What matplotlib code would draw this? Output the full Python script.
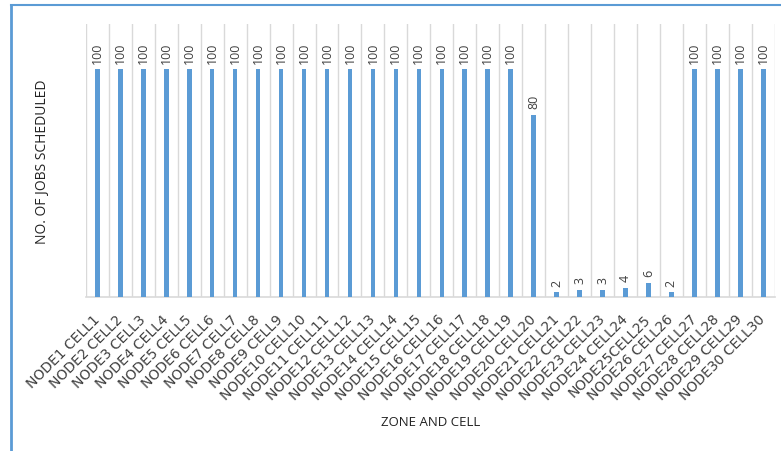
import matplotlib.pyplot as plt
from matplotlib.lines import Line2D
from matplotlib.transforms import ScaledTranslation

labels = [f"NODE{i} CELL{i}" for i in range(1, 31)]
labels[24] = "NODE25CELL25"
jobs = [100] * 19 + [80, 2, 3, 3, 4, 6, 2] + [100] * 4

bar_color = "#5B9BD5"
grid_color = "#D9D9D9"
text_color = "#404040"

plt.rcParams["font.family"] = ["Open Sans", "DejaVu Sans"]

fig = plt.figure(figsize=(7.81, 4.52), dpi=100)
ax = fig.add_axes([0.110, 0.3407, 0.882, 0.604])

x = list(range(len(labels)))
ax.bar(x, jobs, width=0.2, color=bar_color, zorder=3)

for xi, v in zip(x, jobs):
    ax.annotate(str(v), (xi, v), xytext=(0, 5), textcoords="offset points",
                rotation=90, ha="center", va="bottom", fontsize=9, color=text_color)

# vertical separators between categories
for b in range(len(labels) + 1):
    ax.axvline(b - 0.5, color=grid_color, lw=1, zorder=1)

ax.set_xlim(-0.5, len(labels) - 0.5)
ax.set_ylim(0, 120)
ax.set_yticks([])
ax.set_xticks([])

# category names, slanted under each bar
shift = ScaledTranslation(0, -14 / 72, fig.dpi_scale_trans)
for xi, name in zip(x, labels):
    ax.text(xi, 0, name, transform=ax.get_xaxis_transform() + shift,
            rotation=45, ha="right", va="center", rotation_mode="anchor",
            fontsize=10, color=text_color, family="DejaVu Sans")

for side in ["top", "right", "left"]:
    ax.spines[side].set_visible(False)
ax.spines["bottom"].set_color(grid_color)
ax.spines["bottom"].set_linewidth(1.2)

ax.set_ylabel("NO. OF JOBS SCHEDULED", fontsize=10, color="#222222", labelpad=26)
fig.text(0.551, 0.066, "ZONE AND CELL", ha="center", va="center",
         fontsize=9.5, color="#222222")

# outer frame lines
fig.add_artist(Line2D([0.0135, 0.0135], [0, 0.986], color=bar_color, lw=2,
                      transform=fig.transFigure))
fig.add_artist(Line2D([0.0135, 1.0], [0.986, 0.986], color=bar_color, lw=1.5,
                      transform=fig.transFigure))

fig.savefig("out.png", dpi=100)
